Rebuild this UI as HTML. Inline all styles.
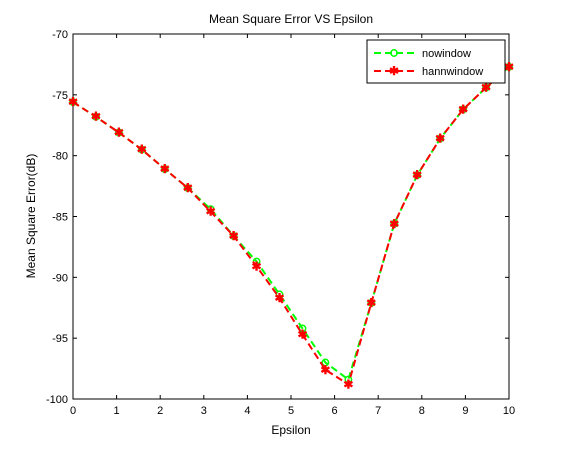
<!DOCTYPE html>
<html><head><meta charset="utf-8"><style>
html,body{margin:0;padding:0;background:#fff;}
svg{display:block;font-family:"Liberation Sans",sans-serif;}
</style></head><body>
<svg id="chart" width="561" height="449">
<rect x="0" y="0" width="561" height="449" fill="#fff"/>
<rect x="73" y="34" width="436" height="365" fill="#fff" stroke="#000" stroke-width="1"/>
<text x="291" y="23" text-anchor="middle" font-size="12">Mean Square Error VS Epsilon</text>
<text x="291" y="434" text-anchor="middle" font-size="12">Epsilon</text>
<text x="35" y="216" text-anchor="middle" font-size="12" transform="rotate(-90 35 216)">Mean Square Error(dB)</text>
<g id="ticks"></g>
<g id="series"></g>
<g>
<rect x="367" y="40" width="138" height="43" fill="#fff" stroke="#000" stroke-width="1"/>
<line x1="374" y1="53" x2="414" y2="53" stroke="#00ff00" stroke-width="2" stroke-dasharray="7,4"/>
<circle cx="394" cy="53" r="3.2" fill="none" stroke="#00ff00" stroke-width="1.5"/>
<text x="422" y="57" font-size="11">nowindow</text>
<line x1="374" y1="71" x2="414" y2="71" stroke="#ff0000" stroke-width="2" stroke-dasharray="7,4"/>
<text x="394" y="75" font-size="12" font-weight="bold" fill="#ff0000" text-anchor="middle">✱</text>
<text x="422" y="75" font-size="11">hannwindow</text>
</g>
</svg>
<script>
var xTicks=[0,1,2,3,4,5,6,7,8,9,10];
var yTicks=[-70,-75,-80,-85,-90,-95,-100];
var nowindow=[-75.6,-76.8,-78.1,-79.5,-81.1,-82.65,-84.4,-86.6,-88.7,-91.4,-94.2,-97.0,-98.4,-92.1,-85.6,-81.6,-78.6,-76.2,-74.4,-72.7];
var hannwindow=[-75.6,-76.8,-78.1,-79.5,-81.1,-82.65,-84.6,-86.6,-89.1,-91.7,-94.7,-97.6,-98.8,-92.1,-85.6,-81.6,-78.6,-76.2,-74.4,-72.7];
var NS="http://www.w3.org/2000/svg";
function sx(v){return 73+(v-0)/10*436;}
function sy(v){return 34+(-70-v)/30*365;}
function mk(t,a,p){var e=document.createElementNS(NS,t);for(var k in a)e.setAttribute(k,a[k]);p.appendChild(e);return e;}
var tg=document.getElementById('ticks');
xTicks.forEach(function(v){
  var x=sx(v);
  var l=mk('line',{x1:x,y1:399,x2:x,y2:395,stroke:'#000'},tg);
  
  
  var l2=mk('line',{x1:x,y1:34,x2:x,y2:38,stroke:'#000'},tg);
  
  
  var t=mk('text',{x:x,y:414,'text-anchor':'middle','font-size':11},tg);t.textContent=v;
  
  
});
yTicks.forEach(function(v){
  var y=sy(v);
  var l=mk('line',{x1:73,y1:y,x2:77,y2:y,stroke:'#000'},tg);
  
  
  var l2=mk('line',{x1:509,y1:y,x2:505,y2:y,stroke:'#000'},tg);
  
  
  var t=mk('text',{x:68,y:y+4,'text-anchor':'end','font-size':11},tg);t.textContent=v;
  
  
});
var sg=document.getElementById('series');
function xs(i,n){return i*10/(n-1);}
function draw(arr,color,name,marker){
  var pts=arr.map(function(v,i){return sx(xs(i,arr.length))+','+sy(v);}).join(' ');
  var pl=mk('polyline',{points:pts,fill:'none',stroke:color,'stroke-width':2,'stroke-dasharray':'7,4'},sg);
  
  
  arr.forEach(function(v,i){
    var x=sx(xs(i,arr.length)),y=sy(v),m;
    if(marker==='o'){m=mk('circle',{cx:x,cy:y,r:3.2,fill:'none',stroke:color,'stroke-width':1.5},sg);}
    else{m=mk('text',{x:x,y:y+4,'font-size':12,'font-weight':'bold',fill:color,'text-anchor':'middle'},sg);m.textContent='✱';}
    
    
  });
}
draw(nowindow,'#00ff00','nowindow','o');
draw(hannwindow,'#ff0000','hannwindow','*');
</script>
</body></html>
